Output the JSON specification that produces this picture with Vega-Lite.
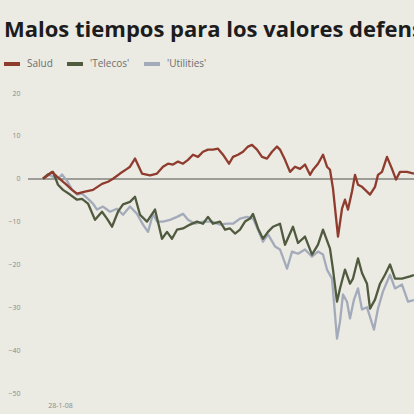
{
  "$schema": "https://vega.github.io/schema/vega-lite/v6.json",
  "width": 386,
  "height": 300,
  "autosize": {"type": "none"},
  "padding": {"left": 28, "top": 93, "right": 0, "bottom": 21},
  "background": "#ebeae3",
  "title": {
    "text": "Malos tiempos para los valores defensivos",
    "anchor": "start",
    "frame": "group",
    "dx": -24,
    "offset": -5,
    "baseline": "alphabetic",
    "font": "Open Sans",
    "fontSize": 22,
    "fontWeight": "bold",
    "color": "#1c1c1c"
  },
  "config": {
    "view": {"stroke": null},
    "axis": {"labelFont": "Open Sans", "labelFontSize": 7, "labelColor": "#8a8a86"}
  },
  "data": {
    "values": [
      {"serie": "Salud", "dia": -17, "valor": 0},
      {"serie": "Salud", "dia": -12, "valor": 0.8},
      {"serie": "Salud", "dia": -8, "valor": 1.6},
      {"serie": "Salud", "dia": -3, "valor": 0.5},
      {"serie": "Salud", "dia": 2, "valor": -0.5},
      {"serie": "Salud", "dia": 7, "valor": -1.5},
      {"serie": "Salud", "dia": 12, "valor": -2.6},
      {"serie": "Salud", "dia": 17, "valor": -3.5},
      {"serie": "Salud", "dia": 25, "valor": -3},
      {"serie": "Salud", "dia": 33, "valor": -2.6},
      {"serie": "Salud", "dia": 42, "valor": -1.2},
      {"serie": "Salud", "dia": 48, "valor": -0.7},
      {"serie": "Salud", "dia": 53, "valor": 0},
      {"serie": "Salud", "dia": 60, "valor": 1.2},
      {"serie": "Salud", "dia": 67, "valor": 2.3},
      {"serie": "Salud", "dia": 70, "valor": 2.8},
      {"serie": "Salud", "dia": 75, "valor": 4.7},
      {"serie": "Salud", "dia": 82, "valor": 1.2},
      {"serie": "Salud", "dia": 90, "valor": 0.8},
      {"serie": "Salud", "dia": 97, "valor": 1.2},
      {"serie": "Salud", "dia": 103, "valor": 2.8},
      {"serie": "Salud", "dia": 108, "valor": 3.5},
      {"serie": "Salud", "dia": 113, "valor": 3.3},
      {"serie": "Salud", "dia": 118, "valor": 4},
      {"serie": "Salud", "dia": 123, "valor": 3.5},
      {"serie": "Salud", "dia": 128, "valor": 4.4},
      {"serie": "Salud", "dia": 133, "valor": 5.6},
      {"serie": "Salud", "dia": 138, "valor": 5.1},
      {"serie": "Salud", "dia": 143, "valor": 6.3},
      {"serie": "Salud", "dia": 148, "valor": 6.8},
      {"serie": "Salud", "dia": 153, "valor": 6.8},
      {"serie": "Salud", "dia": 158, "valor": 7},
      {"serie": "Salud", "dia": 163, "valor": 5.6},
      {"serie": "Salud", "dia": 169, "valor": 3.5},
      {"serie": "Salud", "dia": 173, "valor": 5.1},
      {"serie": "Salud", "dia": 178, "valor": 5.6},
      {"serie": "Salud", "dia": 183, "valor": 6.3},
      {"serie": "Salud", "dia": 188, "valor": 7.5},
      {"serie": "Salud", "dia": 192, "valor": 7.9},
      {"serie": "Salud", "dia": 197, "valor": 6.8},
      {"serie": "Salud", "dia": 202, "valor": 5.1},
      {"serie": "Salud", "dia": 207, "valor": 4.7},
      {"serie": "Salud", "dia": 212, "valor": 6.3},
      {"serie": "Salud", "dia": 217, "valor": 7.5},
      {"serie": "Salud", "dia": 220, "valor": 6.8},
      {"serie": "Salud", "dia": 225, "valor": 4.4},
      {"serie": "Salud", "dia": 230, "valor": 1.6},
      {"serie": "Salud", "dia": 235, "valor": 2.8},
      {"serie": "Salud", "dia": 240, "valor": 2.3},
      {"serie": "Salud", "dia": 245, "valor": 3.3},
      {"serie": "Salud", "dia": 250, "valor": 0.9},
      {"serie": "Salud", "dia": 253, "valor": 2.1},
      {"serie": "Salud", "dia": 258, "valor": 3.5},
      {"serie": "Salud", "dia": 263, "valor": 5.6},
      {"serie": "Salud", "dia": 267, "valor": 2.8},
      {"serie": "Salud", "dia": 270, "valor": 2.1},
      {"serie": "Salud", "dia": 273, "valor": -2.3},
      {"serie": "Salud", "dia": 278, "valor": -13.5},
      {"serie": "Salud", "dia": 282, "valor": -7},
      {"serie": "Salud", "dia": 285, "valor": -4.9},
      {"serie": "Salud", "dia": 288, "valor": -7.2},
      {"serie": "Salud", "dia": 292, "valor": -3},
      {"serie": "Salud", "dia": 295, "valor": 0.9},
      {"serie": "Salud", "dia": 298, "valor": -1.4},
      {"serie": "Salud", "dia": 302, "valor": -1.9},
      {"serie": "Salud", "dia": 307, "valor": -3},
      {"serie": "Salud", "dia": 310, "valor": -3.7},
      {"serie": "Salud", "dia": 315, "valor": -1.9},
      {"serie": "Salud", "dia": 318, "valor": 0.9},
      {"serie": "Salud", "dia": 322, "valor": 1.6},
      {"serie": "Salud", "dia": 327, "valor": 5.1},
      {"serie": "Salud", "dia": 332, "valor": 2.3},
      {"serie": "Salud", "dia": 336, "valor": -0.2},
      {"serie": "Salud", "dia": 340, "valor": 1.6},
      {"serie": "Salud", "dia": 347, "valor": 1.6},
      {"serie": "Salud", "dia": 354, "valor": 1.2},

      {"serie": "'Telecos'", "dia": -17, "valor": 0},
      {"serie": "'Telecos'", "dia": -12, "valor": 1},
      {"serie": "'Telecos'", "dia": -7, "valor": 1.6},
      {"serie": "'Telecos'", "dia": -2, "valor": -1.4},
      {"serie": "'Telecos'", "dia": 3, "valor": -2.6},
      {"serie": "'Telecos'", "dia": 10, "valor": -3.7},
      {"serie": "'Telecos'", "dia": 17, "valor": -4.9},
      {"serie": "'Telecos'", "dia": 22, "valor": -4.7},
      {"serie": "'Telecos'", "dia": 28, "valor": -5.8},
      {"serie": "'Telecos'", "dia": 35, "valor": -9.6},
      {"serie": "'Telecos'", "dia": 42, "valor": -7.7},
      {"serie": "'Telecos'", "dia": 47, "valor": -9.3},
      {"serie": "'Telecos'", "dia": 52, "valor": -11.2},
      {"serie": "'Telecos'", "dia": 58, "valor": -7.7},
      {"serie": "'Telecos'", "dia": 63, "valor": -6},
      {"serie": "'Telecos'", "dia": 70, "valor": -5.4},
      {"serie": "'Telecos'", "dia": 75, "valor": -4.2},
      {"serie": "'Telecos'", "dia": 80, "valor": -8.4},
      {"serie": "'Telecos'", "dia": 87, "valor": -10},
      {"serie": "'Telecos'", "dia": 95, "valor": -7.2},
      {"serie": "'Telecos'", "dia": 102, "valor": -14},
      {"serie": "'Telecos'", "dia": 107, "valor": -12.4},
      {"serie": "'Telecos'", "dia": 112, "valor": -14},
      {"serie": "'Telecos'", "dia": 117, "valor": -11.9},
      {"serie": "'Telecos'", "dia": 123, "valor": -11.6},
      {"serie": "'Telecos'", "dia": 130, "valor": -10.7},
      {"serie": "'Telecos'", "dia": 137, "valor": -10},
      {"serie": "'Telecos'", "dia": 143, "valor": -10.5},
      {"serie": "'Telecos'", "dia": 148, "valor": -8.9},
      {"serie": "'Telecos'", "dia": 153, "valor": -10.5},
      {"serie": "'Telecos'", "dia": 160, "valor": -10},
      {"serie": "'Telecos'", "dia": 165, "valor": -11.9},
      {"serie": "'Telecos'", "dia": 170, "valor": -11.6},
      {"serie": "'Telecos'", "dia": 175, "valor": -12.8},
      {"serie": "'Telecos'", "dia": 180, "valor": -11.9},
      {"serie": "'Telecos'", "dia": 185, "valor": -10},
      {"serie": "'Telecos'", "dia": 190, "valor": -9.3},
      {"serie": "'Telecos'", "dia": 193, "valor": -8.2},
      {"serie": "'Telecos'", "dia": 198, "valor": -11.6},
      {"serie": "'Telecos'", "dia": 203, "valor": -14},
      {"serie": "'Telecos'", "dia": 208, "valor": -12.4},
      {"serie": "'Telecos'", "dia": 213, "valor": -11.2},
      {"serie": "'Telecos'", "dia": 220, "valor": -10.5},
      {"serie": "'Telecos'", "dia": 225, "valor": -15.4},
      {"serie": "'Telecos'", "dia": 233, "valor": -11.2},
      {"serie": "'Telecos'", "dia": 238, "valor": -15},
      {"serie": "'Telecos'", "dia": 245, "valor": -13.5},
      {"serie": "'Telecos'", "dia": 252, "valor": -17.7},
      {"serie": "'Telecos'", "dia": 258, "valor": -15.4},
      {"serie": "'Telecos'", "dia": 263, "valor": -11.9},
      {"serie": "'Telecos'", "dia": 270, "valor": -16.3},
      {"serie": "'Telecos'", "dia": 273, "valor": -21.2},
      {"serie": "'Telecos'", "dia": 277, "valor": -28.7},
      {"serie": "'Telecos'", "dia": 280, "valor": -25.6},
      {"serie": "'Telecos'", "dia": 285, "valor": -21.2},
      {"serie": "'Telecos'", "dia": 290, "valor": -24.5},
      {"serie": "'Telecos'", "dia": 293, "valor": -23.3},
      {"serie": "'Telecos'", "dia": 298, "valor": -18.6},
      {"serie": "'Telecos'", "dia": 302, "valor": -22},
      {"serie": "'Telecos'", "dia": 307, "valor": -24.5},
      {"serie": "'Telecos'", "dia": 310, "valor": -30.3},
      {"serie": "'Telecos'", "dia": 315, "valor": -28.2},
      {"serie": "'Telecos'", "dia": 320, "valor": -24.5},
      {"serie": "'Telecos'", "dia": 325, "valor": -22.4},
      {"serie": "'Telecos'", "dia": 330, "valor": -20},
      {"serie": "'Telecos'", "dia": 335, "valor": -23.3},
      {"serie": "'Telecos'", "dia": 342, "valor": -23.3},
      {"serie": "'Telecos'", "dia": 350, "valor": -22.8},
      {"serie": "'Telecos'", "dia": 354, "valor": -22.5},

      {"serie": "'Utilities'", "dia": -17, "valor": 0},
      {"serie": "'Utilities'", "dia": -12, "valor": 1},
      {"serie": "'Utilities'", "dia": -7, "valor": 0.5},
      {"serie": "'Utilities'", "dia": -2, "valor": 0},
      {"serie": "'Utilities'", "dia": 2, "valor": 1},
      {"serie": "'Utilities'", "dia": 7, "valor": -0.5},
      {"serie": "'Utilities'", "dia": 12, "valor": -2.5},
      {"serie": "'Utilities'", "dia": 17, "valor": -3.7},
      {"serie": "'Utilities'", "dia": 22, "valor": -3.5},
      {"serie": "'Utilities'", "dia": 28, "valor": -4.7},
      {"serie": "'Utilities'", "dia": 33, "valor": -5.8},
      {"serie": "'Utilities'", "dia": 37, "valor": -7.2},
      {"serie": "'Utilities'", "dia": 43, "valor": -6.5},
      {"serie": "'Utilities'", "dia": 50, "valor": -7.7},
      {"serie": "'Utilities'", "dia": 57, "valor": -7},
      {"serie": "'Utilities'", "dia": 63, "valor": -8.4},
      {"serie": "'Utilities'", "dia": 70, "valor": -6.5},
      {"serie": "'Utilities'", "dia": 77, "valor": -8.2},
      {"serie": "'Utilities'", "dia": 83, "valor": -10.7},
      {"serie": "'Utilities'", "dia": 88, "valor": -12.4},
      {"serie": "'Utilities'", "dia": 93, "valor": -8.2},
      {"serie": "'Utilities'", "dia": 97, "valor": -10},
      {"serie": "'Utilities'", "dia": 103, "valor": -10},
      {"serie": "'Utilities'", "dia": 110, "valor": -9.6},
      {"serie": "'Utilities'", "dia": 117, "valor": -8.9},
      {"serie": "'Utilities'", "dia": 123, "valor": -8.2},
      {"serie": "'Utilities'", "dia": 128, "valor": -9.6},
      {"serie": "'Utilities'", "dia": 135, "valor": -10.5},
      {"serie": "'Utilities'", "dia": 143, "valor": -10},
      {"serie": "'Utilities'", "dia": 152, "valor": -10},
      {"serie": "'Utilities'", "dia": 160, "valor": -10.7},
      {"serie": "'Utilities'", "dia": 167, "valor": -10.5},
      {"serie": "'Utilities'", "dia": 173, "valor": -10.5},
      {"serie": "'Utilities'", "dia": 180, "valor": -9.3},
      {"serie": "'Utilities'", "dia": 187, "valor": -8.9},
      {"serie": "'Utilities'", "dia": 193, "valor": -9.3},
      {"serie": "'Utilities'", "dia": 198, "valor": -11.9},
      {"serie": "'Utilities'", "dia": 203, "valor": -14.7},
      {"serie": "'Utilities'", "dia": 208, "valor": -13},
      {"serie": "'Utilities'", "dia": 215, "valor": -15.8},
      {"serie": "'Utilities'", "dia": 220, "valor": -16.5},
      {"serie": "'Utilities'", "dia": 227, "valor": -21},
      {"serie": "'Utilities'", "dia": 232, "valor": -17},
      {"serie": "'Utilities'", "dia": 238, "valor": -17.5},
      {"serie": "'Utilities'", "dia": 245, "valor": -16.5},
      {"serie": "'Utilities'", "dia": 252, "valor": -18.2},
      {"serie": "'Utilities'", "dia": 258, "valor": -17},
      {"serie": "'Utilities'", "dia": 263, "valor": -17.7},
      {"serie": "'Utilities'", "dia": 267, "valor": -21.2},
      {"serie": "'Utilities'", "dia": 272, "valor": -23.3},
      {"serie": "'Utilities'", "dia": 277, "valor": -37.3},
      {"serie": "'Utilities'", "dia": 280, "valor": -33.3},
      {"serie": "'Utilities'", "dia": 283, "valor": -27},
      {"serie": "'Utilities'", "dia": 287, "valor": -28.7},
      {"serie": "'Utilities'", "dia": 290, "valor": -32.6},
      {"serie": "'Utilities'", "dia": 294, "valor": -28.2},
      {"serie": "'Utilities'", "dia": 298, "valor": -25.6},
      {"serie": "'Utilities'", "dia": 302, "valor": -30.5},
      {"serie": "'Utilities'", "dia": 307, "valor": -30},
      {"serie": "'Utilities'", "dia": 314, "valor": -35.2},
      {"serie": "'Utilities'", "dia": 318, "valor": -30.3},
      {"serie": "'Utilities'", "dia": 323, "valor": -26.3},
      {"serie": "'Utilities'", "dia": 330, "valor": -22.4},
      {"serie": "'Utilities'", "dia": 335, "valor": -25.6},
      {"serie": "'Utilities'", "dia": 342, "valor": -24.7},
      {"serie": "'Utilities'", "dia": 348, "valor": -28.7},
      {"serie": "'Utilities'", "dia": 354, "valor": -28.3}
    ]
  },
  "layer": [
    {
      "mark": {"type": "rule", "color": "#9d9d97", "strokeWidth": 1.5},
      "encoding": {"y": {"datum": 0, "type": "quantitative", "scale": {"domain": [-50, 20]}}}
    },
    {
      "transform": [{"filter": {"field": "serie", "equal": "'Utilities'"}}],
      "mark": {"type": "line", "strokeWidth": 2.3, "strokeJoin": "round", "clip": true},
      "encoding": {
        "x": {"field": "dia", "type": "quantitative", "scale": {"domain": [-32, 354], "nice": false, "zero": false},
          "axis": {"values": [0], "labelExpr": "'28-1-08'", "grid": false, "domain": false, "ticks": false, "title": null, "labelPadding": 8}},
        "y": {"field": "valor", "type": "quantitative", "scale": {"domain": [-50, 20], "nice": false},
          "axis": {"values": [-50, -40, -30, -20, -10, 0, 10, 20], "title": null, "domain": false, "ticks": false, "gridColor": "#d3d2cb", "gridWidth": 1, "labelPadding": 8}},
        "color": {"field": "serie", "type": "nominal",
          "scale": {"domain": ["Salud", "'Telecos'", "'Utilities'"], "range": ["#8f3b2d", "#4f5a3e", "#a3abbb"]},
          "legend": {"orient": "none", "legendX": -26, "legendY": -39, "direction": "horizontal", "title": null,
            "symbolType": "stroke", "symbolSize": 256, "symbolStrokeWidth": 4, "labelFont": "Open Sans",
            "labelFontSize": 10, "labelColor": "#6e6e6e", "columnPadding": 6, "labelOffset": 5}}
      }
    },
    {
      "transform": [{"filter": {"field": "serie", "equal": "'Telecos'"}}],
      "mark": {"type": "line", "strokeWidth": 2.3, "strokeJoin": "round", "clip": true},
      "encoding": {
        "x": {"field": "dia", "type": "quantitative", "scale": {"domain": [-32, 354], "nice": false, "zero": false}},
        "y": {"field": "valor", "type": "quantitative", "scale": {"domain": [-50, 20], "nice": false}},
        "color": {"field": "serie", "type": "nominal"}
      }
    },
    {
      "transform": [{"filter": {"field": "serie", "equal": "Salud"}}],
      "mark": {"type": "line", "strokeWidth": 2.3, "strokeJoin": "round", "clip": true},
      "encoding": {
        "x": {"field": "dia", "type": "quantitative", "scale": {"domain": [-32, 354], "nice": false, "zero": false}},
        "y": {"field": "valor", "type": "quantitative", "scale": {"domain": [-50, 20], "nice": false}},
        "color": {"field": "serie", "type": "nominal"}
      }
    }
  ]
}
